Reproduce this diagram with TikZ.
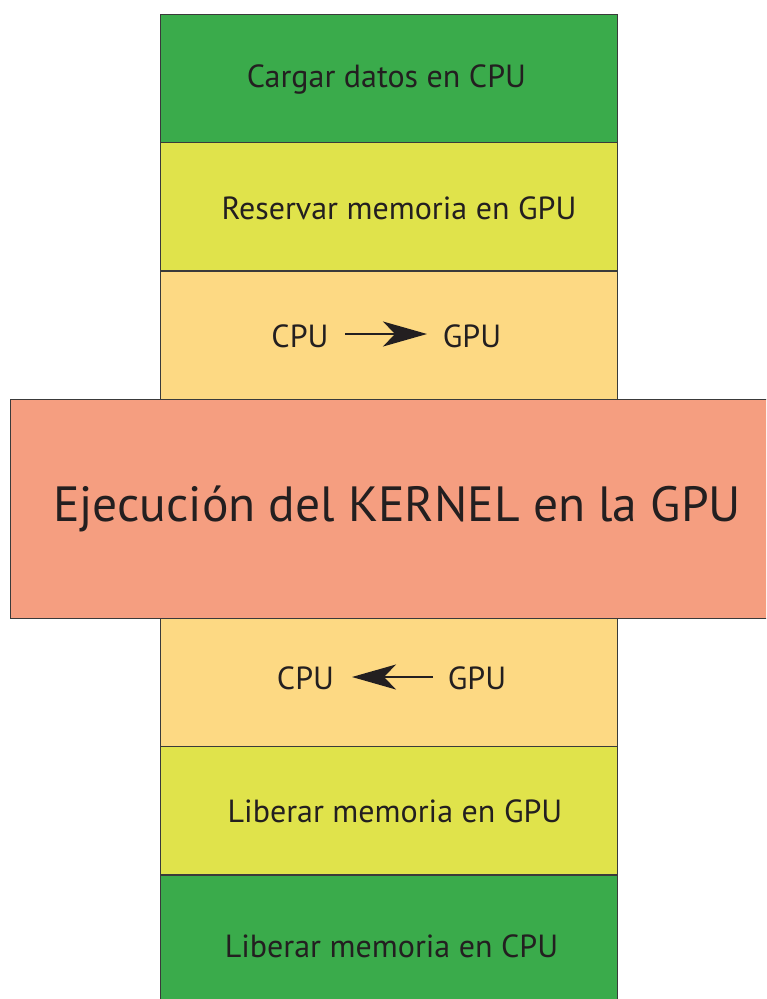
\documentclass[tikz,border=0pt]{standalone}
\usepackage{fontspec}
\setmainfont{PT Sans}
\usetikzlibrary{arrows.meta}
\definecolor{ink}{HTML}{231F20}
\definecolor{edge}{HTML}{3A3A3A}
\definecolor{cpugreen}{HTML}{3AAB4B}
\definecolor{gpuyellow}{HTML}{E0E34B}
\definecolor{xferorange}{HTML}{FDD983}
\definecolor{kernelsalmon}{HTML}{F59E80}
\tikzset{
  stage/.style={draw=edge, line width=0.8pt, minimum width=457pt, minimum height=128pt,
                inner sep=0pt},
  kernelbox/.style={draw=edge, line width=0.8pt, minimum width=774pt, minimum height=219pt,
                inner sep=0pt, fill=kernelsalmon, text=ink, font=\fontsize{49.5}{58}\selectfont},
  lbl/.style={text=ink, inner sep=0pt, font=\fontsize{32}{38}\selectfont},
  xfer/.style={draw=ink, line width=1.4pt, -{Stealth[length=44pt, width=25pt, inset=12pt]}}
}
\begin{document}
\begin{tikzpicture}[x=1pt, y=-1pt]
  \useasboundingbox (0,0) rectangle (766,999);
  \clip (0,0) rectangle (766,999);

  % column of stages
  \node[stage, fill=cpugreen]   (load)   at (388.5,78)    {};
  \node[stage, fill=gpuyellow]  (alloc)  at (388.5,206.5) {};
  \node[stage, fill=xferorange] (h2d)    at (388.5,335)   {};
  \node[stage, fill=xferorange] (d2h)    at (388.5,682)   {};
  \node[stage, fill=gpuyellow]  (freeg)  at (388.5,810.5) {};
  \node[stage, fill=cpugreen, minimum height=140pt] (freec) at (388.5,945) {};

  % stage captions
  \node[lbl] (loadT)  at (386.5,79)  {Cargar datos en CPU};
  \node[lbl] (allocT) at (399,208)   {Reservar memoria en GPU};
  \node[lbl] (freegT) at (395,811)   {Liberar memoria en GPU};
  \node[lbl] (freecT) at (391.5,946) {Liberar memoria en CPU};

  % kernel band across the middle
  \node[kernelbox] (kernel) at (397,508.5) {Ejecución del KERNEL en la GPU};

  % host -> device copy
  \node[lbl] (cpuA) at (300,336) {CPU};
  \node[lbl] (gpuA) at (472,336) {GPU};
  \coordinate (aS) at (345,334);
  \coordinate (aE) at (427,334);
  \draw[xfer] (aS) -- (aE);

  % device -> host copy
  \node[lbl] (cpuB) at (305.5,678) {CPU};
  \node[lbl] (gpuB) at (477,678) {GPU};
  \coordinate (bS) at (433,677);
  \coordinate (bE) at (352,677);
  \draw[xfer] (bS) -- (bE);
\end{tikzpicture}
\end{document}
